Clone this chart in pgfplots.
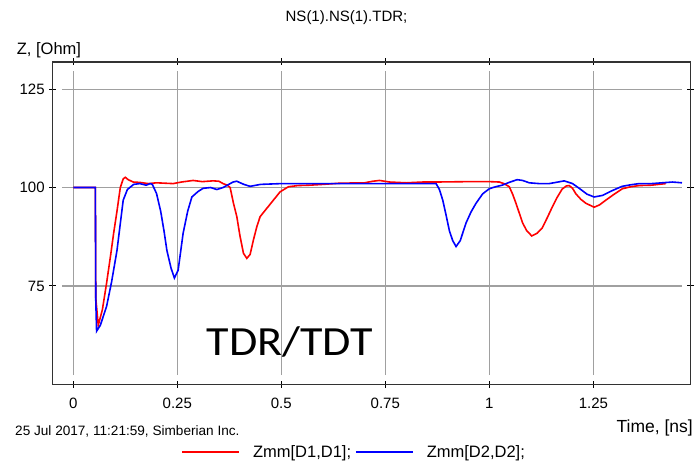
\documentclass[border=0pt]{standalone}
\usepackage{pgfplots}
\pgfplotsset{compat=1.18}
\usepackage{fontspec}
\setmainfont{Liberation Sans}
\newfontfamily\carlito{Carlito}
\definecolor{gridgray}{RGB}{160,160,160}
\definecolor{framegray}{RGB}{50,50,50}
\begin{document}
\begin{tikzpicture}[x=1pt,y=1pt]
\useasboundingbox (0,0) rectangle (695,463);
\begin{axis}[
  at={(52.7pt,78.7pt)}, anchor=south west,
  scale only axis, width=638pt, height=322.3pt,
  xmin=-0.0495, xmax=1.484, ymin=50, ymax=131.9,
  xtick={0,0.25,0.5,0.75,1,1.25},
  xticklabels={0,0.25,0.5,0.75,1,1.25},
  ytick={75,100,125},
  tick align=center, major tick length=7pt,
  tick style={black, line width=0.9pt},
  axis line style={framegray, line width=1.2pt},
  /pgf/number format/assume math mode=true,
  ticklabel style={font=\fontsize{15}{15}\selectfont},
  xticklabel style={yshift=-7pt},
  yticklabel style={xshift=-1pt},
  clip=false,
  legend columns=-1,
  legend style={at={(axis description cs:0.2015,-0.21)}, anchor=west, draw=none, fill=none,
    font=\fontsize{16.5}{16.5}\selectfont, inner sep=0pt,
    /tikz/every odd column/.append style={column sep=11pt},
    /tikz/every even column/.append style={column sep=2pt}},
  legend image code/.code={\draw[#1] (0pt,0pt) -- (57pt,0pt);},
]
\pgfplotsinvokeforeach{0,0.25,0.5,0.75,1,1.25}{
  \draw[gridgray, line width=1.3pt] (axis cs:#1,52.35) -- (axis cs:#1,129.6);
}
\pgfplotsinvokeforeach{75,100,125}{
  \draw[gridgray, line width=1.3pt] (axis cs:-0.0274,#1) -- (axis cs:1.4624,#1);
}
\addplot[red, line width=1.6pt] coordinates {
(0,100) (0.053,100) (0.054,72) (0.06,65) (0.07,69) (0.08,75.7) (0.09,83) (0.097,88.4)
(0.105,94) (0.113,100) (0.12,102.2) (0.125,102.6) (0.132,102) (0.144,101.4) (0.16,101.3)
(0.18,101) (0.2,101.2) (0.22,101.1) (0.24,101) (0.26,101.4) (0.288,101.8) (0.31,101.5)
(0.336,101.7) (0.35,101.6) (0.36,101) (0.37,100.6) (0.377,100) (0.385,96) (0.393,92.6)
(0.401,87.5) (0.409,83.3) (0.417,82) (0.425,83) (0.433,86.7) (0.441,90) (0.449,92.6)
(0.465,94.7) (0.481,96.8) (0.497,98.9) (0.517,100.2) (0.54,100.5) (0.569,100.6) (0.6,100.8)
(0.64,101.1) (0.7,101.2) (0.72,101.6) (0.736,101.8) (0.76,101.4) (0.8,101.2) (0.84,101.4)
(0.87,101.4) (0.95,101.5) (1.0,101.5) (1.024,101.4) (1.035,101) (1.048,100.2) (1.056,98.3)
(1.064,96) (1.072,93.5) (1.08,91) (1.09,89) (1.102,87.7) (1.115,88.4) (1.127,89.7)
(1.14,92.5) (1.151,95) (1.163,97.5) (1.175,99.6) (1.185,100.4) (1.192,100.5) (1.2,99.8)
(1.208,98.4) (1.22,97) (1.232,96) (1.252,95) (1.265,95.6) (1.28,96.8) (1.3,98.3)
(1.32,99.7) (1.34,100.2) (1.36,100.5) (1.39,100.6) (1.424,101)
};
\addlegendentry{Zmm[D1,D1];}
\addplot[blue, line width=1.6pt] coordinates {
(0,100) (0.053,100) (0.054,71.5) (0.056,63.5) (0.065,65) (0.08,69.8) (0.092,76) (0.105,84)
(0.112,90) (0.12,96.8) (0.13,99.5) (0.145,100.8) (0.16,101) (0.175,100.6) (0.185,101)
(0.19,100.8) (0.2,98.5) (0.21,94) (0.218,89) (0.225,84) (0.235,79.5) (0.243,77) (0.252,79)
(0.264,88.4) (0.275,94) (0.285,97.6) (0.3,99) (0.312,99.8) (0.33,100) (0.345,99.5) (0.36,100)
(0.384,101.4) (0.393,101.6) (0.41,100.8) (0.425,100.3) (0.45,100.8) (0.5,101) (0.6,101)
(0.7,101) (0.8,101) (0.872,101) (0.88,99.5) (0.888,96.8) (0.896,93) (0.904,89) (0.912,86.5)
(0.92,85) (0.93,86.5) (0.944,91) (0.956,93.8) (0.968,96) (0.984,98.4) (1.0,99.7) (1.015,100.2)
(1.031,100.6) (1.05,101.4) (1.067,102) (1.08,101.8) (1.096,101.2) (1.12,101) (1.144,101)
(1.165,101.4) (1.18,101.7) (1.2,101) (1.216,99.8) (1.235,98.3) (1.252,97.6) (1.272,98)
(1.295,99.2) (1.319,100.3) (1.34,100.7) (1.36,101) (1.39,101) (1.415,101.2) (1.44,101.4)
(1.463,101.2)
};
\addlegendentry{Zmm[D2,D2];}
\end{axis}
\node[font=\fontsize{15}{15}\selectfont] at (346.5,445) {NS(1).NS(1).TDR;};
\node[anchor=west, inner sep=0pt, font=\fontsize{16.5}{16.5}\selectfont] at (16.7,413) {Z, [Ohm]};
\node[anchor=west, inner sep=0pt, font=\fontsize{13.6}{13.6}\selectfont] at (15,32) {25 Jul 2017, 11:21:59, Simberian Inc.};
\node[anchor=east, inner sep=0pt, font=\fontsize{17.5}{17.5}\selectfont] at (693,35) {Time, [ns]};
\node[anchor=base west, inner sep=0pt, xscale=1.11, font=\carlito\fontsize{41.5}{41.5}\selectfont] at (206.7,108) {TDR/TDT};
\end{tikzpicture}
\end{document}
